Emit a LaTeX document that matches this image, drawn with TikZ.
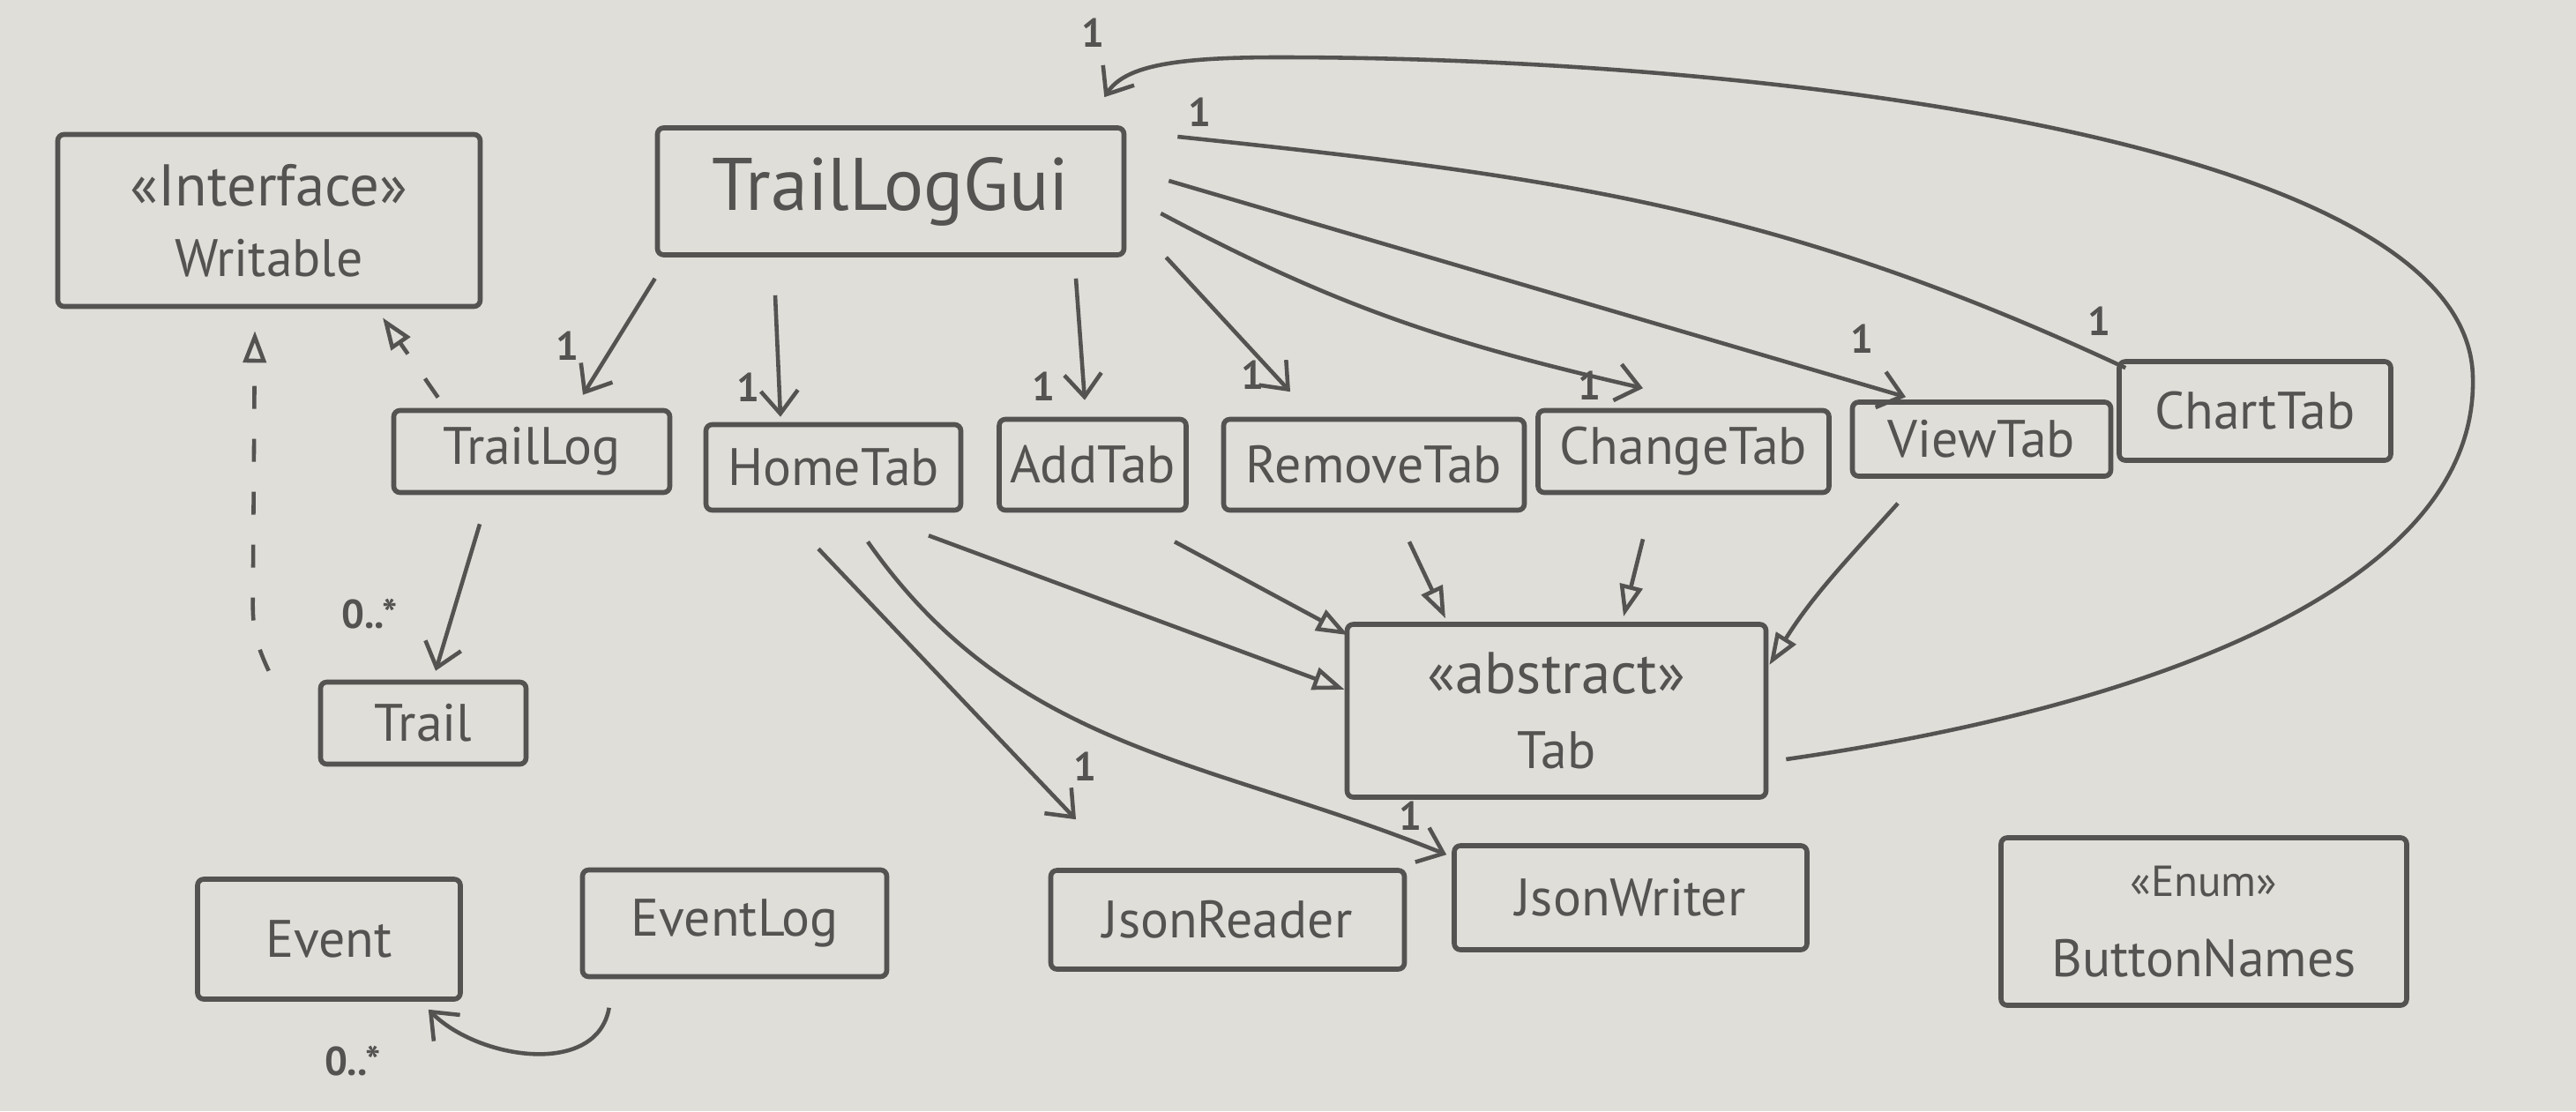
\documentclass[tikz,border=0pt]{standalone}
\usepackage{fontspec}
\setmainfont{PT Sans}
\usetikzlibrary{positioning,arrows.meta,calc}
\definecolor{pencil}{RGB}{84,83,81}
\definecolor{paper}{RGB}{224,222,217}
\tikzset{
  cls/.style={draw=pencil, line width=1.6pt, rounded corners=2pt, text=pencil,
    inner sep=2pt, align=center, font=\fontsize{17}{20}\selectfont},
  assoc/.style={draw=pencil, line width=1.3pt, -{Straight Barb[length=2.6mm,width=4.2mm]}},
  inherit/.style={draw=pencil, line width=1.3pt, -{Triangle[open,length=3.6mm,width=2.6mm]}},
  realize/.style={inherit, dash pattern=on 2.6mm off 3.4mm},
  multlabel/.style={text=pencil, inner sep=0pt, font=\fontsize{13}{15}\selectfont\bfseries}
}
\newcommand{\stereo}[1]{{\fontsize{19}{22}\selectfont «#1»}}

\begin{document}
\begin{tikzpicture}
    \fill[paper] (0,0) rectangle (29.21,12.60);
    % classes
    \node[cls, minimum width=5.29cm, minimum height=1.44cm, font=\fontsize{24}{28}\selectfont] (gui) at (10.10,10.43) {TrailLogGui};
    \node[cls, minimum width=4.79cm, minimum height=1.95cm] (writable) at (3.05,10.10) {\stereo{Interface}\\[1mm] Writable};
    \node[cls, minimum width=3.13cm, minimum height=0.93cm] (traillog) at (6.03,7.48) {TrailLog};
    \node[cls, minimum width=2.89cm, minimum height=0.97cm] (home) at (9.45,7.30) {HomeTab};
    \node[cls, minimum width=2.12cm, minimum height=1.03cm] (add) at (12.39,7.33) {AddTab};
    \node[cls, minimum width=3.41cm, minimum height=1.03cm] (remove) at (15.58,7.33) {RemoveTab};
    \node[cls, minimum width=3.30cm, minimum height=0.93cm] (change) at (19.09,7.48) {ChangeTab};
    \node[cls, minimum width=2.93cm, minimum height=0.84cm] (view) at (22.47,7.62) {ViewTab};
    \node[cls, minimum width=3.08cm, minimum height=1.12cm] (chart) at (25.57,7.94) {ChartTab};
    \node[cls, minimum width=4.75cm, minimum height=1.96cm] (tab) at (17.65,4.54) {\stereo{abstract}\\[1.5mm] Tab};
    \node[cls, minimum width=2.33cm, minimum height=0.93cm] (trail) at (4.80,4.40) {Trail};
    \node[cls, minimum width=4.01cm, minimum height=1.12cm] (reader) at (13.92,2.17) {JsonReader};
    \node[cls, minimum width=4.00cm, minimum height=1.18cm] (writer) at (18.49,2.42) {JsonWriter};
    \node[cls, minimum width=4.60cm, minimum height=1.90cm] (names) at (24.99,2.15) {{\fontsize{14}{16}\selectfont «Enum»}\\[2mm] ButtonNames};
    \node[cls, minimum width=2.98cm, minimum height=1.36cm] (event) at (3.73,1.95) {Event};
    \node[cls, minimum width=3.45cm, minimum height=1.21cm] (eventlog) at (8.33,2.13) {EventLog};

    % associations out of the gui
    \draw[assoc] ([yshift=-2.4mm]gui.south west) -- ([xshift=5.8mm,yshift=1.5mm]traillog.north)
        node[multlabel, pos=1, xshift=-1.8mm, yshift=5.5mm] {1};
    \draw[assoc] ([xshift=-13.1mm,yshift=-4.3mm]gui.south) -- ([xshift=-6mm,yshift=0.6mm]home.north)
        node[multlabel, pos=1, xshift=-3.7mm, yshift=3.3mm] {1};
    \draw[assoc] ([xshift=21mm,yshift=-2.4mm]gui.south) -- ([xshift=-0.9mm,yshift=1.9mm]add.north)
        node[multlabel, pos=1, xshift=-4.7mm, yshift=1.5mm] {1};
    \draw[assoc] ([xshift=4.5mm]gui.south east) -- ([xshift=-9.5mm,yshift=2.85mm]remove.north)
        node[multlabel, pos=1, xshift=-4.3mm, yshift=1.9mm] {1};
    \draw[assoc] ([xshift=3.9mm,yshift=-2.5mm]gui.east) to[out=-28,in=167]
        node[multlabel, pos=1, xshift=-6.1mm, yshift=0.3mm] {1} ([xshift=-4.6mm,yshift=2.25mm]change.north);
    \draw[assoc] ([xshift=4.8mm,yshift=1.2mm]gui.east) -- ([xshift=-8.6mm,yshift=0.3mm]view.north)
        node[multlabel, pos=1, xshift=-5mm, yshift=6.6mm] {1};
    \draw[draw=pencil, line width=1.3pt] ([xshift=5.8mm,yshift=6.2mm]gui.east) to[out=-6,in=155]
        node[multlabel, pos=0, xshift=2.5mm, yshift=2.8mm] {1}
        node[multlabel, pos=1, xshift=-3mm, yshift=5.3mm] {1} ([xshift=1mm,yshift=-1mm]chart.north west);
    % tab back to the gui
    \draw[assoc] ([xshift=2mm,yshift=-5.5mm]tab.east) .. controls (24.5,4.6) and (28.1,6.0) .. (28.04,8.32)
        .. controls (28.0,11.0) and (20,11.95) .. (14.5,11.95)
        .. controls (13.3,11.95) and (12.75,11.85) .. ([xshift=-2.5mm,yshift=3.2mm]gui.north east)
        node[multlabel, pos=1, xshift=-1.3mm, yshift=7.3mm] {1};

    % trail log
    \draw[assoc] ([xshift=-5.9mm,yshift=-3.3mm]traillog.south) -- ([xshift=1.4mm,yshift=1mm]trail.north)
        node[multlabel, pos=1, xshift=-7.5mm, yshift=6.5mm] {0..*};
    \draw[realize] ([xshift=5.3mm,yshift=1.2mm]traillog.north west) -- ([xshift=12.9mm,yshift=-1mm]writable.south);
    \draw[realize] ([xshift=-5.6mm,yshift=1mm]trail.north west) to[out=115,in=-90] ++(-0.18,0.75)
        -- ([xshift=-1.6mm,yshift=-2.5mm]writable.south);

    % home tab uses json
    \draw[assoc] ([xshift=-1.7mm,yshift=-4.1mm]home.south) -- ([xshift=-17.2mm,yshift=5.5mm]reader.north)
        node[multlabel, pos=1, xshift=1mm, yshift=6mm] {1};
    \draw[assoc] ([xshift=3.9mm,yshift=-3.3mm]home.south) to[out=-55,in=158]
        node[multlabel, pos=1, xshift=-4.1mm, yshift=4.4mm] {1} ([xshift=-0.6mm,yshift=-1.3mm]writer.north west);

    % every tab extends tab
    \draw[inherit] ([xshift=10.8mm,yshift=-2.6mm]home.south) -- ([yshift=2.4mm]tab.west);
    \draw[inherit] ([xshift=9.3mm,yshift=-3.3mm]add.south) -- ([xshift=0.4mm,yshift=-1.5mm]tab.north west);
    \draw[inherit] ([xshift=4mm,yshift=-3.3mm]remove.south) -- ([xshift=-12.6mm,yshift=0.4mm]tab.north);
    \draw[inherit] ([xshift=-4.6mm,yshift=-5mm]change.south) -- ([xshift=7.6mm,yshift=0.6mm]tab.north);
    \draw[inherit] ([xshift=-9.5mm,yshift=-2.8mm]view.south) to[out=-132,in=58] ([xshift=0.1mm,yshift=5.2mm]tab.east);

    % event log
    \draw[assoc] ([xshift=3.3mm,yshift=-3.25mm]eventlog.south west) to[out=-100,in=-45]
        node[multlabel, pos=1, xshift=-8.6mm, yshift=-5.8mm] {0..*} ([xshift=-3.9mm,yshift=-0.9mm]event.south east);
\end{tikzpicture}
\end{document}
